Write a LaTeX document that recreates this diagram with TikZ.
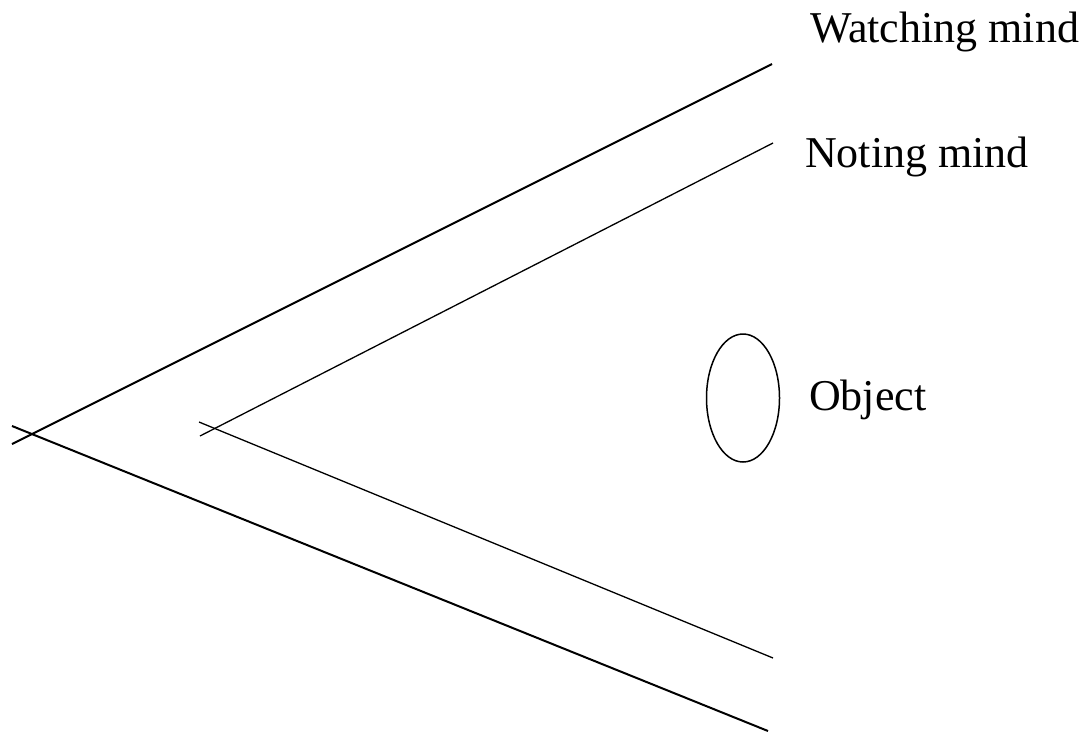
\documentclass[tikz,border=0pt]{standalone}
\usepackage{fontspec}
\setmainfont{Liberation Serif}
\usetikzlibrary{shapes.geometric}
\tikzset{
  outer/.style={line width=2pt},
  inner/.style={line width=1.3pt},
  label/.style={anchor=base west, inner sep=0pt, font=\fontsize{44}{50}\selectfont},
}
\begin{document}
\begin{tikzpicture}[x=1pt, y=-1pt]
\useasboundingbox (0,0) rectangle (1083,731);

\coordinate (wa) at (12,444);
\coordinate (wb) at (772,64);
\coordinate (wc) at (12,426);
\coordinate (wd) at (768,731);
\coordinate (na) at (200,436);
\coordinate (nb) at (773,143);
\coordinate (nc) at (199,422);
\coordinate (nd) at (773,658);

\draw[outer] (wa) -- (wb);
\draw[outer] (wc) -- (wd);
\draw[inner] (na) -- (nb);
\draw[inner] (nc) -- (nd);

\node[draw, ellipse, line width=1.5pt, minimum width=73, minimum height=128, inner sep=0pt] (obj) at (743,398) {};

\node[label] (watching) at (810,42) {Watching mind};
\node[label] (noting) at (805,167) {Noting mind};
\node[label] (object) at (809,410) {Object};

\end{tikzpicture}
\end{document}
